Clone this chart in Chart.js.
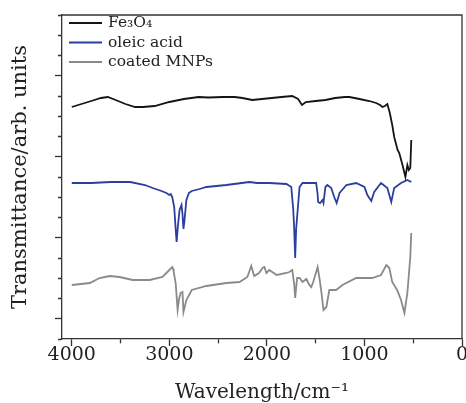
<!DOCTYPE html>
<html><head><meta charset="utf-8">
<script src="https://cdn.jsdelivr.net/npm/chart.js@4"></script>
<style>html,body{margin:0;padding:0;background:#fff}#wrap{width:466px;height:403px}</style>
</head><body><div id="wrap"><canvas id="c" width="466" height="403"></canvas></div>
<script>
// Series labels and colours
const seriesLabels = ['Fe\u2083O\u2084', 'oleic acid', 'coated MNPs'];
const seriesColors = ['#141414', '#2b3f9c', '#8a8a8a'];

// Fe3O4 (wavenumber, transmittance arb.)
const wnFe = [4000,3900,3800,3700,3630,3550,3450,3350,3270,3150,3000,2850,2700,2600,2450,2330,2250,2150,2050,1950,1850,1740,1680,1640,1600,1500,1400,1300,1200,1155,1050,950,880,840,815,790,765,740,715,695,660,643,610,580,560,545,530,520];
const trFe = [232,235,238,241,242,239,235,232,232,233,237,240,242,241.5,242,242,241,239,240,241,242,243,240,234,237,238,239,241,242,242,240,238,236,234,232,233,235,226,214,202,189,186,174,162,174,169,171,199];

// oleic acid
const wnOA = [4000,3800,3600,3400,3250,3170,3080,3030,3000,2985,2970,2950,2935,2925,2910,2895,2875,2865,2855,2845,2825,2800,2770,2690,2620,2415,2180,2100,1975,1800,1750,1730,1720,1710,1700,1690,1665,1635,1560,1495,1480,1475,1455,1430,1420,1400,1380,1340,1310,1285,1255,1185,1085,1000,970,930,900,830,765,725,695,625,560,520];
const trOA = [156,156,157,157,154,151,148,146,144,145,142,132,110,97,115,129,134,125,110,118,139,146,148,150,152,154,157,156,156,155,152,130,110,81,110,122,152,156,156,156,145,137,136,139,136,152,154,151,142,136,146,154,156,152,144,138,147,156,151,137,151,156,159,157];

// coated MNPs
const wnCM = [4000,3815,3715,3610,3510,3375,3200,3070,3000,2970,2960,2955,2935,2915,2900,2885,2865,2855,2840,2825,2770,2620,2415,2280,2200,2160,2130,2080,2045,2025,2005,1975,1900,1800,1770,1740,1720,1710,1690,1665,1635,1595,1565,1545,1525,1480,1460,1440,1420,1390,1360,1290,1225,1085,920,830,775,745,715,665,625,590,560,530,520];
const trCM = [54,56,61,63,62,59,59,62,69,72,70,67,56,29,40,46,47,27,33,39,49,53,56,57,62,73,63,66,71,72,66,69,64,66,67,69,55,41,61,61,57,60,54,52,57,72,60,46,29,32,49,49,54,61,61,64,74,71,57,49,39,26,46,82,106];

// axis ticks
const xTickValues = [4000,3500,3000,2500,2000,1500,1000,500,0];
const xTickLabels = ['4000','','3000','','2000','','1000','','0'];

function pts(xs, ys){ return xs.map((x,i)=>({x:x, y:ys[i]})); }

const frame = {
  id:'frame',
  afterDraw(chart){
    const {ctx, chartArea:a} = chart;
    ctx.save();
    ctx.strokeStyle='#333'; ctx.lineWidth=1.3;
    ctx.beginPath();
    ctx.moveTo(a.left, a.top); ctx.lineTo(a.right, a.top); ctx.lineTo(a.right, a.bottom);
    ctx.stroke();
    // legend inside plot
    ctx.font = '15.5px "DejaVu Serif"';
    ctx.textBaseline='middle';
    chart.data.datasets.forEach((ds,i)=>{
      const y = a.top + 8 + i*19.5;
      ctx.strokeStyle = ds.borderColor; ctx.lineWidth = 2;
      ctx.beginPath(); ctx.moveTo(a.left+7, y); ctx.lineTo(a.left+40, y); ctx.stroke();
      ctx.fillStyle = '#222';
      ctx.fillText(ds.label, a.left+46, y);
    });
    ctx.restore();
  }
};

new Chart(document.getElementById('c'), {
  type:'line',
  data:{ datasets:[
    {label:seriesLabels[0], data:pts(wnFe,trFe), borderColor:seriesColors[0], borderWidth:1.8},
    {label:seriesLabels[1], data:pts(wnOA,trOA), borderColor:seriesColors[1], borderWidth:1.8},
    {label:seriesLabels[2], data:pts(wnCM,trCM), borderColor:seriesColors[2], borderWidth:1.8}
  ]},
  options:{
    responsive:false, animation:false,
    elements:{point:{radius:0}, line:{tension:0, fill:false}},
    layout:{padding:{top:15, right:4, left:0, bottom:0}},
    plugins:{legend:{display:false}, tooltip:{enabled:false}},
    scales:{
      x:{
        type:'linear', reverse:true, min:0, max:4100,
        border:{color:'#333', width:1.3},
        grid:{drawOnChartArea:false, drawTicks:true, tickLength:7, tickColor:'#333', tickWidth:1.3,
              tickBorderDash: c => (c.index % 2 === 0) ? [] : [4,30]},
        afterBuildTicks: s => { s.ticks = xTickValues.map(v => ({value:v})); },
        afterFit: s => { s.height = 64; s.paddingLeft = 0; s.paddingRight = 0; },
        ticks:{ autoSkip:false, maxRotation:0, minRotation:0, padding:0, color:'#222',
                font:{family:'DejaVu Serif', size:19, lineHeight:1},
                callback: (v, i) => xTickLabels[i] },
        title:{display:true, text:'Wavelength/cm\u207B\u00B9', color:'#222', padding:{top:0.5, bottom:0},
               font:{family:'DejaVu Serif', size:20, lineHeight:1}}
      },
      y:{
        type:'linear', min:0, max:324,
        border:{color:'#333', width:1.3},
        grid:{drawOnChartArea:false, drawTicks:true, tickLength:7, tickColor:'#333', tickWidth:1.3,
              tickBorderDash: c => (c.index % 4 === 1) ? [] : [0,3,4,30]},
        afterFit: s => { s.width = 62; },
        ticks:{ stepSize:20.25, display:false },
        title:{display:true, text:'Transmittance/arb. units', color:'#222', padding:{top:8, bottom:0},
               font:{family:'DejaVu Serif', size:21, lineHeight:1.2}}
      }
    }
  },
  plugins:[frame]
});
</script></body></html>
